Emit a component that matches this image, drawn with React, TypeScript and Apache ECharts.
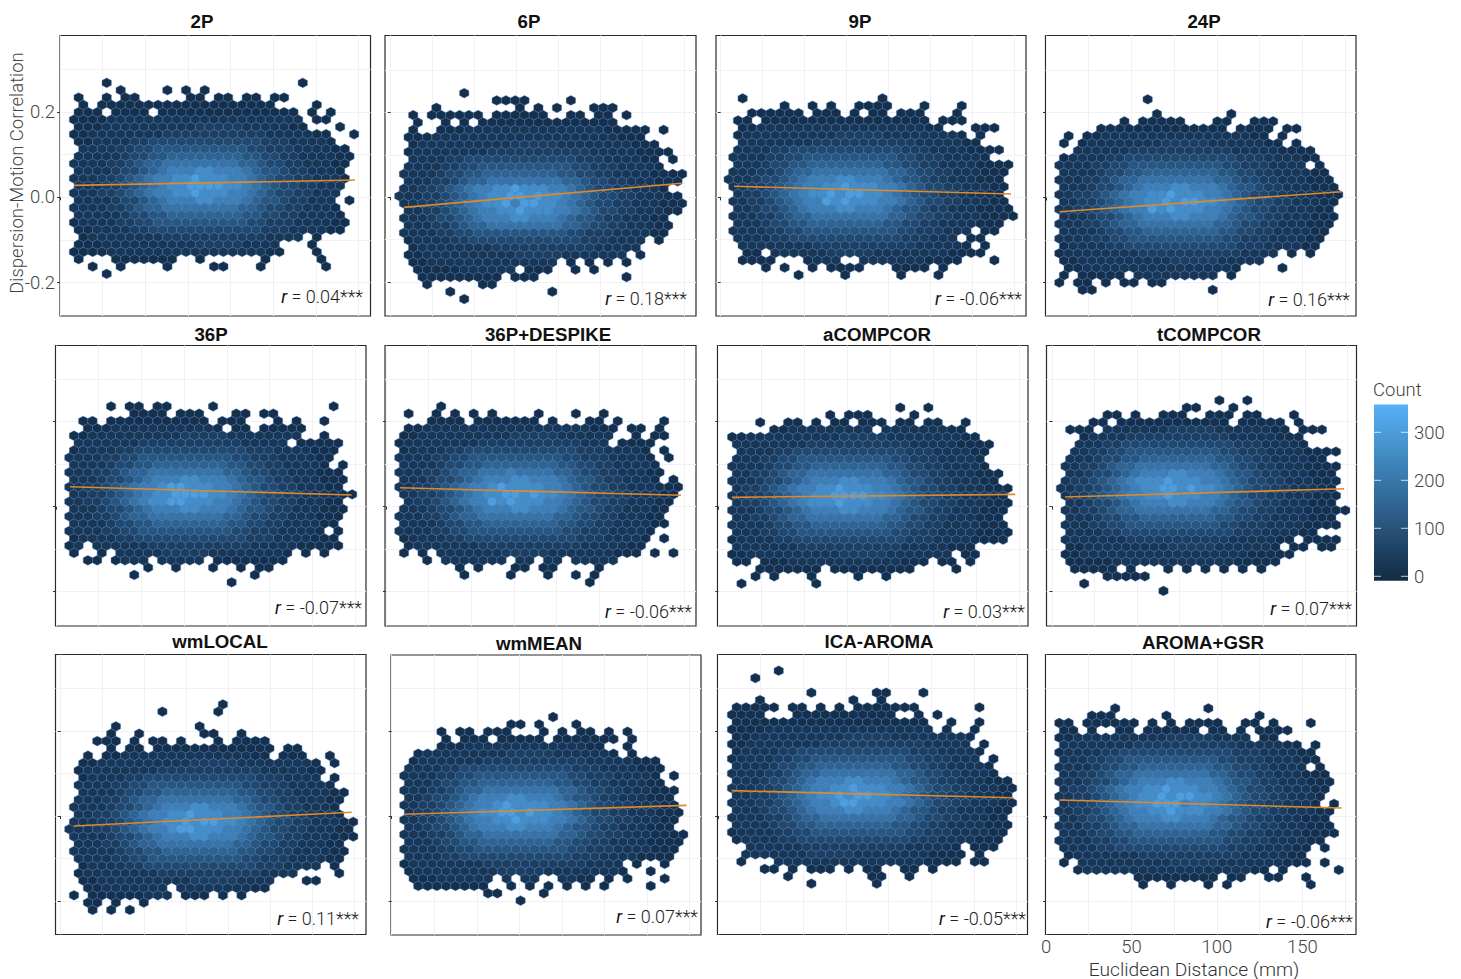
import React, { useEffect, useRef } from "react";
import * as echarts from "echarts";

// Estimated hex-bin counts: each digit is a level of levelCounts, "." is an empty bin.
const levelCounts = [6, 22, 44, 74, 108, 148, 188, 225, 262, 305];

const rows2P = [
  "...0....................0",
  ".....0....0.0.0",
  "0..0.00.....00.00.00.00",
  ".0.0000000000000000000....0",
  "000.0000.000000000000000.0.0",
  "0000111111111111111111111.00",
  "0001111111111222221111100...0",
  "0011111111222222222221111100..0",
  "0011112233333333333322211110",
  ".11112233444444444433222111100",
  "111112334455555555443322111100",
  "111122345566666666554332211100",
  "11112334567778877765443221110",
  "111223456778898887765433221110",
  "11122345678899998876543322111",
  "11122345677889888776543322111",
  "1111233456777887776544322111.0",
  "11112234556666666655433221110",
  "11111233445555555544332211110",
  "011112233444444444433222111100",
  "00111122333333333333222111100",
  ".011111111222222222221111.0",
  "0001111111111222221111...0",
  "00001111111111111111100...0",
  "0...0000000..0......0.....0",
  "..0..0....0....00...0......0",
  "...0",
];
const rows6P = [
  ".......0",
  "...........0000....0",
  "....0........0.0.0...000",
  "..0.000000.000000..00.00.0",
  "..0..0.0.000000000000000",
  "..0..00011111111111111100000.0",
  ".00011111111111111111111000",
  "..011111111112222211111111000",
  ".01111111122222222222111110000",
  "..111122333333333333222111100.0",
  ".1111223344444444443322211110",
  ".1111233445555555544332211110000",
  ".111223455666666665543322111000",
  ".11223456778898887765433221110",
  "1112234567889989887654332211100",
  ".1122345678897998876543322111000",
  ".112234567788988877654332211100",
  ".11123345677788777654432211100",
  ".11122345566666666554332211100",
  ".11112233444444444433222111100",
  ".01111223333333333332221111.0",
  "..0111111112222222222211111",
  ".001111111111222221111111.0",
  "..0011111111111111.0.0.0.0",
  "..00000111111.000..0.0",
  "...000000000.000.........0",
  "...0.....00",
  "......0..........0",
  ".......0",
];
const rows9P = [
  ".0..............0",
  "......0..0.0..0000...0...0",
  "..000000.000.0.00.000...0",
  ".00.000000000000000000.000",
  ".0011111111111111111100...000",
  ".0111111111122222111111110.0",
  ".11111111222222222221111100",
  ".11112233333333333322211110000",
  "1111223344444444443322211110",
  ".111233445555555544332211110000",
  "111223455666666665543322111000",
  "111233456777887776544322111000",
  "112234567788988877654332211100",
  ".12234567889899887654332211100",
  "112234567798988877654332211100",
  ".112334567778877765443221110000",
  "1112234556666666655433221110000",
  ".11123344555555554433221111000",
  "11112233444444444433222111.00",
  ".111122333333333333222111.00",
  ".1111111122222222222111110.0",
  "..00.11111122222111111110000",
  ".0000...0111..11111110000...0",
  "....0.0..0.0000...0000.0",
  ".......0....0.....0...0",
];
const rows24P = [
  ".........0",
  "",
  "..........0.......0",
  ".......0.00000...00..000",
  "....00000000000000.0000.00",
  ".0.00111111111111111100.0",
  "0.0111111112222211111100.0",
  "..11111122222222222111110000",
  "0111122333333333333222111100",
  "111122334444444444332221111.0",
  "11112334455555555443322111100",
  "111223455666666665543322111000",
  "111233456777887776544322111000",
  "1122345677889888776543322111000",
  "112234567889899887654332211100",
  "112234567798988877654332211100",
  "111233456777887776544322111000",
  "111223455666666665543322111000",
  "11112334455555555443322111100",
  "11112233444444444433222111100",
  "0111122333333333333222111100",
  "011111111222222222221111.0.0",
  "0011111111112222211111",
  ".0011111111111111110....0",
  "0.00000.111111111.0",
  "0.00.0.00.00",
  "..00............0",
];
const rows36P = [
  "....0.00.00....0............0",
  ".......0000.000...00.00",
  ".00.00000000000.000...0.0..0",
  "..000111111111110.00.00000",
  "0011111111112222211111111..0",
  ".11111112222222222211111.00000",
  "01111223333333333332221111000",
  "11112233444444444433222111100",
  "1111233445555555544332211110.0",
  "111223455666666665543322111000",
  "111233456777887776544322111000",
  "112234567789988877654332211100",
  "1122345678899998876543322111000",
  "112234567889988877654332211100",
  "111233456777887776544322111000",
  "111223455666666665543322111000",
  "11112334455555555443322111100",
  "1111223344444444443322211110.0",
  "01111223333333333332221111000",
  "01.111111222222222221111100000",
  "0..0.1111122222111111110.0.0",
  "..00.0111.11111.00000000",
  "........0..0...0..0.00",
  ".......0............0",
  ".................0",
];
const rowsDespike = [
  "....0",
  ".0..0.0.0.0....0...0..0",
  "...0000.0000000.0...00.0....0",
  ".00111111111111111111000.00.0",
  "00111111111122222111111..0.00",
  "01111111122222222222111.0000",
  "011112233333333333322211110.0",
  "1111223344444444443322211110.0",
  "1111233445555555544332211110",
  "11122345566676666554332211100",
  "1112334567778877765443221110.0",
  "1122345677898888776543322111000",
  "112234567889989887654332211100",
  ".12234567798988877654332211100",
  "11123345677788777654432211100",
  "11122345566666666554332211100",
  "11112334455555555443322111100",
  "1111223344444444443322211110",
  "011112233333333333322211110.0",
  ".01111111222222222221111100",
  "0.0.1111111222221111111000.0.0",
  "...0.1111111.11.11.11111",
  "......0.0...00.00....0",
  ".......0....0...0..0.0",
  "....................0",
];
const rowsACompCor = [
  "..................0..0",
  "...........0.000....0",
  "...0..00.0.00.000.00.00..0",
  ".....00111111111.111111100",
  "001111111111222221111111100",
  ".1111111122222222222111110000",
  ".111122333333333333222111100",
  ".111223344444444443322211110",
  "1111233445555555544332211110",
  ".11223455666666665543322111000",
  "11123345677788777654432211100",
  ".122345677889888776543322111000",
  "112234567889999887654332211100",
  ".122345678889888776543322111000",
  "111233456777887776544322111000",
  ".11223455666666665543322111000",
  "111123344555555554433221111000",
  ".111223344444444443322211110000",
  "011112233333333333322211110000",
  ".11111112222222222211111000",
  "001111111111222221111111.00",
  ".00.000111111111111000.00.0",
  "...0000000.000000000....0",
  "...0.0...0....0..0",
  ".0.......0",
];
const rowsTCompCor = [
  ".................0..0",
  "..............00...0",
  ".....00.0..000..000.00...0",
  "....00.000000000000.00000.0",
  ".000.11111112222211111100.000",
  "...011112222222222211111000",
  "..1112233333333333322211110",
  "..11223344444444443322211110000",
  ".1112334455555555443322111100",
  ".112234556666666655433221110000",
  ".11233456777887776544322111000",
  ".122345678889888776543322111000",
  "112234567889989887654332211100",
  ".122345677889888776543322111000",
  ".11233456777887776544322111000",
  ".1122345566666666554332211100000",
  ".11123344555555554433221111000",
  ".111223344444444443322211110000",
  ".111122333333333333222111100",
  ".1111111222222222221111100.0000",
  ".00111111111222221111110.00.00",
  ".0011111111111111111100000",
  ".00000111111111111100000",
  "..00000.0...0.0.0.0.0.0",
  ".....00000",
  "...0",
  "...........0",
];
const rowsWmLocal = [
  "................0",
  "..........0.....0",
  "",
  ".....0........0",
  "....0..0......00..0",
  "...000.0.00.0...0.0000",
  "....0.00.0000000000000.00",
  "..0.001111111111111100.000..0",
  ".00111111111122222111111110.0",
  ".011111111222222222221111100",
  ".01111223333333333332221111.0",
  ".1111223344444444443322211110",
  ".11112334455555555443322111100",
  ".11122345566666666554332211100",
  "11112334567778877765443221110",
  ".11223456778898887765433221110",
  "1112234567889899887654332211100",
  "1112234567789988877654332211100",
  "1111233456777887776544322111000",
  ".11122345566666666554332211100",
  "111112334455555555443322111100",
  ".11112233444444444433222111100",
  ".01111223333333333332221111.0",
  ".011111111222222222221111....0",
  ".001111111111222221111...00",
  "..001111111.1111111100",
  "0.000000111.000.0.0",
  "..00.0..0",
  "..0.0.0",
];
const rowsWmMean = [
  "................0",
  "............00.0...0",
  "....0.00.000...0.0.00.0.0",
  ".....0.000.00000.0000000.0",
  "....000111111111111100..0",
  "..0111111111222221111110.0",
  ".011111112222222222211111000",
  ".1111223333333333332221111000",
  "1111223344444444443322211110.0",
  ".1112334455555555443322111100",
  "111223455666666665543322111000",
  ".11233456777887776544322111000",
  "112234567789888877654332211100",
  ".122345678899898876543322111000",
  "112234567788988877654332211100",
  ".11233456777887776544322111000",
  "1112234556666666655433221110000",
  ".111233445555555544332211110000",
  "111122334444444444332221111000",
  ".11112233333333333322211110000",
  "011111111222222222221111.0..0",
  ".011111111122222111111110..0",
  ".000111111.1.11..1100.0.0...0",
  "..00000000..0.0.0.0.0.0....0",
  ".........00....0",
  ".............0",
];
const rowsIcaAroma = [
  ".....0",
  "...0",
  "",
  ".........0......00...0",
  "...0.........0..0",
  ".00000.00.0.0.0000000......0",
  "0000...00000000000..0.0",
  ".000000000000000000000..0..0",
  "0000111111111111111111.0..0",
  ".00111111111122222111111110",
  "00111111112222222222211111.0",
  ".011112233333333333322211110",
  "011112233444444444433222111.0",
  ".1111233445555555544332211110",
  "11112234556666666655433221110",
  ".111233456777887776544322111000",
  "1112234567788988877654332211100",
  ".112234567889899887654332211100",
  "1112234567789988877654332211100",
  ".111233456777887776544322111000",
  "111122345566666666554332211100",
  ".111123344555555554433221111000",
  "011112233444444444433222111100",
  ".01111223333333333332221111000",
  "..11111122222222222111110.000",
  "..111111122222111111110000.0",
  ".0...11111111111111110000.00",
  "....00.0.000.0.00..00.0",
  "......0........00..0",
  ".........0......0",
];
const rowsAromaGsr = [
  "......0.........0",
  "....000.....0.........0",
  "00.000000.0.0.0000..00.0...0",
  ".00.0..00.000000.00.0.0000",
  "001111111111222221111.00",
  ".11111111222222222221111100.0",
  "0111122333333333333222111100",
  ".1112233444444444433222111100",
  "111123344555555554433221111.0",
  ".11223455666666665543322111000",
  "111233456777887776544322111000",
  ".12234567788988877654332211100",
  "11223456788989988765433221110",
  ".1223456788999788765433221110.0",
  "112234567788988877654332211100",
  ".11233456777887776544322111000",
  "111223455666666665543322111000",
  ".111233445555555544332211110000",
  "11112233444444444433222111100",
  ".111122333333333333222111100.0",
  ".01111111222222222221111100",
  ".0.1111111111222221111111000.0",
  "..011111111111111111100.0.....0",
  ".........000000000.00..00..0",
  ".........0..0...0.0........0",
];

const panelNames = ["2P", "6P", "9P", "24P", "36P", "36P+DESPIKE", "aCOMPCOR", "tCOMPCOR", "wmLOCAL", "wmMEAN", "ICA-AROMA", "AROMA+GSR"];
const panelRows = [rows2P, rows6P, rows9P, rows24P, rows36P, rowsDespike, rowsACompCor, rowsTCompCor, rowsWmLocal, rowsWmMean, rowsIcaAroma, rowsAromaGsr];
const correlations = ["0.04", "0.18", "-0.06", "0.16", "-0.07", "-0.06", "0.03", "0.07", "0.11", "0.07", "-0.05", "-0.06"];
// Regression line end points: [x1, y1, x2, y2]
const fitLines = [
  [8.2, 0.028, 172.8, 0.0405],
  [7.9, -0.0237, 173.2, 0.033],
  [7.9, 0.026, 172.8, 0.0078],
  [7.8, -0.0334, 173, 0.0137],
  [8.2, 0.047, 173.1, 0.0275],
  [8.2, 0.0447, 173, 0.0268],
  [7.9, 0.022, 173, 0.029],
  [7.4, 0.0228, 173, 0.0424],
  [7.9, -0.0235, 173.2, 0.0087],
  [7.8, 0.004, 173.2, 0.025],
  [8, 0.0595, 173, 0.043],
  [7.8, 0.0376, 173, 0.0188],
];
const xTicks = [0, 50, 100, 150];
const xGrid = [0, 25, 50, 75, 100, 125, 150, 175];
const yTicks = [-0.2, 0, 0.2];
const yGrid = [-0.2, -0.1, 0, 0.1, 0.2, 0.3];
const legendTicks = [0, 100, 200, 300];

// Layout: frame [left, top, right, bottom], px of x=0, px per mm, px of y=0, px per unit
const frames = [
  [60, 35.5, 370.5, 316, 60, 1.707, 197.3, 426],
  [385, 35.5, 696, 316, 390.7, 1.68, 197.3, 424],
  [716, 35.5, 1026, 316, 720.7, 1.68, 197.3, 424],
  [1045.5, 35.5, 1356, 316, 1046, 1.709, 197.5, 425],
  [55.5, 345.5, 366, 626, 56, 1.708, 506.7, 425],
  [385, 345.5, 696, 626, 386, 1.705, 506.7, 425],
  [717.5, 345.5, 1028, 626, 718.3, 1.717, 506.7, 425],
  [1046.5, 345.5, 1356.5, 626, 1052.5, 1.686, 506.7, 425],
  [55.5, 654.5, 366, 934.5, 60.7, 1.68, 816, 425.75],
  [391, 655, 701, 935, 391.7, 1.703, 816, 425.75],
  [717.5, 654.5, 1027.5, 934.5, 718, 1.707, 816, 425.75],
  [1045.5, 654.5, 1356, 934.5, 1046, 1.709, 816, 425.75],
];
// Bin lattice: first-column mm, column width mm, first-row value, row height
const lattices = [
  [8.2, 5.47, 0.2687, 0.01725],
  [2.36, 5.52, 0.2458, 0.01735],
  [4.74, 5.55, 0.2332, 0.01735],
  [7.8, 5.44, 0.231, 0.01725],
  [7.8, 5.43, 0.2361, 0.01725],
  [7.82, 5.45, 0.2361, 0.01725],
  [5.36, 5.44, 0.233, 0.01725],
  [2.22, 5.53, 0.2503, 0.01725],
  [5.14, 5.54, 0.2623, 0.01725],
  [4.68, 5.46, 0.2325, 0.01725],
  [5.47, 5.47, 0.3413, 0.01725],
  [5.07, 5.45, 0.2529, 0.01725],
];
const titleSpots = [
  [202, 21], [529, 21], [860, 21], [1204, 21],
  [211, 334], [548, 334], [877, 334], [1209, 334],
  [220, 641], [539, 643], [879, 641], [1203, 642],
];
const rSpots = [
  [363, 296], [687, 298], [1022, 298], [1350, 299],
  [362, 607], [692, 611], [1025, 611], [1352, 608],
  [359, 918], [698, 916], [1026, 918], [1353, 921],
];

const LOW = [19, 43, 67];
const HIGH = [86, 177, 247];
const rampMin = -9;
const rampMax = 358;
function ramp(count: number) {
  const t = Math.max(0, Math.min(1, (count - rampMin) / (rampMax - rampMin)));
  const c = LOW.map((l, k) => Math.round(l + (HIGH[k] - l) * t));
  return `rgb(${c[0]},${c[1]},${c[2]})`;
}

const LABEL_FONT = "Roboto, 'Liberation Sans', sans-serif";
const TITLE_FONT = "'Liberation Sans', Arial, sans-serif";

function buildOption() {
  const grid: any[] = [];
  const xAxis: any[] = [];
  const yAxis: any[] = [];
  const series: any[] = [];
  const graphic: any[] = [];

  frames.forEach((f, p) => {
    const [l, t, r, b, x0, sx, y0, sy] = f;
    const xMin = (l - x0) / sx;
    const xMax = (r - x0) / sx;
    const yMax = (y0 - t) / sy;
    const yMin = (y0 - b) / sy;
    grid.push({ left: l, top: t, width: r - l, height: b - t, show: true, backgroundColor: "#fff", borderColor: "#2a2a2a", borderWidth: 1.2 });
    const showX = p === 11;
    const showY = p === 0;
    xAxis.push({
      type: "value", gridIndex: p, min: xMin, max: xMax, position: "bottom", axisLine: { show: false },
      axisTick: { show: true, length: 3, inside: false, lineStyle: { color: "#333", width: 1 }, customValues: xTicks },
      axisLabel: { show: showX, customValues: xTicks, margin: 3, fontSize: 18.5, fontWeight: 300, color: "#444", fontFamily: LABEL_FONT, formatter: (v: number) => String(v) },
      splitLine: { show: false },
    });
    xAxis.push({
      type: "value", gridIndex: p, min: xMin, max: xMax, position: "top", axisLine: { show: false },
      axisTick: { show: false, customValues: xGrid }, axisLabel: { show: false },
      splitLine: { show: true, lineStyle: { color: "#f1f1f3", width: 1 } },
    });
    yAxis.push({
      type: "value", gridIndex: p, min: yMin, max: yMax, position: "left", axisLine: { show: false },
      axisTick: { show: true, length: 3, inside: false, lineStyle: { color: "#333", width: 1 }, customValues: yTicks },
      axisLabel: { show: showY, customValues: yTicks, margin: 5, fontSize: 18.5, fontWeight: 300, color: "#444", fontFamily: LABEL_FONT, formatter: (v: number) => v.toFixed(1) },
      splitLine: { show: false },
    });
    yAxis.push({
      type: "value", gridIndex: p, min: yMin, max: yMax, position: "right", axisLine: { show: false },
      axisTick: { show: false, customValues: yGrid }, axisLabel: { show: false },
      splitLine: { show: true, lineStyle: { color: "#f1f1f3", width: 1 } },
    });

    const [hx, hdx, hy, hdy] = lattices[p];
    const cells: number[][] = [];
    panelRows[p].forEach((row, ri) => {
      for (let i = 0; i < row.length; i++) {
        const ch = row[i];
        if (ch === ".") continue;
        cells.push([hx + hdx * (i + (ri % 2 === 0 ? 0.5 : 0)), hy - hdy * ri, levelCounts[+ch]]);
      }
    });
    series.push({
      type: "custom", name: panelNames[p] + " bins", coordinateSystem: "cartesian2d", xAxisIndex: 2 * p, yAxisIndex: 2 * p, z: 2,
      data: cells, encode: { x: 0, y: 1 }, silent: true,
      renderItem: (_: any, api: any) => {
        const c = api.coord([api.value(0), api.value(1)]);
        const size = api.size([hdx, hdy]);
        const w = size[0] / 2;
        const h = (size[1] * 4) / 3 / 2;
        const n = api.value(2);
        return {
          type: "polygon",
          shape: { points: [[c[0], c[1] - h], [c[0] + w, c[1] - h / 2], [c[0] + w, c[1] + h / 2], [c[0], c[1] + h], [c[0] - w, c[1] + h / 2], [c[0] - w, c[1] - h / 2]] },
          style: { fill: ramp(n), stroke: "rgba(58,110,195,0.7)", lineWidth: 0.6 },
        };
      },
    });
    const fit = fitLines[p];
    series.push({
      type: "line", name: panelNames[p] + " fit", xAxisIndex: 2 * p, yAxisIndex: 2 * p, z: 5, silent: true,
      showSymbol: false, symbol: "none", data: [[fit[0], fit[1]], [fit[2], fit[3]]],
      lineStyle: { color: "#DE8A2C", width: 1.6 },
    });
    graphic.push({
      type: "text", x: titleSpots[p][0], y: titleSpots[p][1], z: 10,
      style: { text: panelNames[p], font: `bold 18.7px ${TITLE_FONT}`, fill: "#111", align: "center", verticalAlign: "middle" },
    });
    graphic.push({
      type: "text", x: rSpots[p][0], y: rSpots[p][1], z: 10,
      style: {
        text: `{i|r} = ${correlations[p]}***`, font: `300 18px ${LABEL_FONT}`, fill: "#222", align: "right", verticalAlign: "middle",
        rich: { i: { fontStyle: "italic", font: `italic 400 18px ${LABEL_FONT}`, fill: "#111" } },
      },
    });
  });

  graphic.push({
    type: "text", x: 17, y: 173, rotation: Math.PI / 2, z: 10,
    style: { text: "Dispersion-Motion Correlation", font: `300 18.5px ${LABEL_FONT}`, fill: "#444", align: "center", verticalAlign: "middle" },
  });
  graphic.push({
    type: "text", x: 1194, y: 969, z: 10,
    style: { text: "Euclidean Distance (mm)", font: `300 19.2px ${LABEL_FONT}`, fill: "#333", align: "center", verticalAlign: "middle" },
  });
  // Colour legend
  const barL = 1374, barR = 1408, barT = 404.5, barB = 580.7, zeroY = 576.3, perCount = 0.48;
  graphic.push({ type: "text", x: 1373, y: 390, z: 10, style: { text: "Count", font: `300 18.5px ${LABEL_FONT}`, fill: "#444", align: "left", verticalAlign: "middle" } });
  graphic.push({
    type: "rect", z: 10, shape: { x: barL, y: barT, width: barR - barL, height: barB - barT },
    style: { fill: new echarts.graphic.LinearGradient(0, 0, 0, 1, [{ offset: 0, color: ramp(rampMax) }, { offset: 1, color: ramp(rampMin) }]) },
  });
  legendTicks.forEach((v) => {
    const y = zeroY - v * perCount;
    graphic.push({ type: "line", z: 11, shape: { x1: barL, y1: y, x2: barL + 7, y2: y }, style: { stroke: "rgba(255,255,255,0.75)", lineWidth: 1 } });
    graphic.push({ type: "line", z: 11, shape: { x1: barR - 7, y1: y, x2: barR, y2: y }, style: { stroke: "rgba(255,255,255,0.75)", lineWidth: 1 } });
    graphic.push({ type: "text", x: 1414, y: y + 0.5, z: 10, style: { text: String(v), font: `300 18.5px ${LABEL_FONT}`, fill: "#444", align: "left", verticalAlign: "middle" } });
  });

  return { animation: false, backgroundColor: "#fff", grid, xAxis, yAxis, series, graphic };
}

export default function App() {
  const ref = useRef<HTMLDivElement>(null);
  useEffect(() => {
    if (!ref.current) return;
    const chart = echarts.init(ref.current, undefined, { renderer: "svg" });
    chart.setOption(buildOption() as any);
    return () => chart.dispose();
  }, []);
  return <div ref={ref} style={{ position: "fixed", left: 0, top: 0, width: 1461, height: 979 }} />;
}
